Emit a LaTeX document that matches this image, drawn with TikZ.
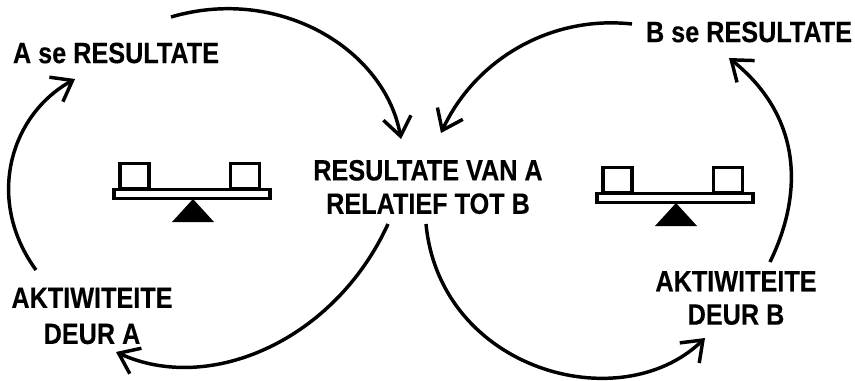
\documentclass[tikz,border=0pt]{standalone}
\usepackage{fontspec}
\setmainfont{Liberation Sans}
\usetikzlibrary{positioning,calc,arrows.meta}
\tikzset{
  lbl/.style={font=\fontsize{22}{25}\selectfont\bfseries\addfontfeatures{FakeStretch=0.86,FakeBold=0.3},align=center,inner sep=0pt},
  loopline/.style={line width=2.6pt,-{Straight Barb[length=14pt,width=21pt,line width=2.6pt]}},
  box/.style={draw,line width=2.6pt,fill=white,minimum width=22pt,minimum height=18.4pt,inner sep=0pt},
  beam/.style={draw,line width=2.6pt,fill=white,minimum width=117pt,minimum height=6.4pt,inner sep=0pt},
}
\begin{document}
\begin{tikzpicture}[x=0.75pt,y=-0.75pt]
  \useasboundingbox (0,0) rectangle (855,381);
  % text
  \node[lbl] (resA) at (116,53) {A se RESULTATE};
  \node[lbl] (resB) at (749,32) {B se RESULTATE};
  \node[lbl] (mid) at (428,187) {RESULTATE VAN A\\RELATIEF TOT B};
  \node[lbl] (actA) at (92,316) {AKTIWITEITE\\[2pt]DEUR A};
  \node[lbl] (actB) at (736,298) {AKTIWITEITE\\DEUR B};
  % free ends
  \coordinate (a1) at (171,17);
  \coordinate (a2) at (401,139);
  \coordinate (b1) at (632,24);
  \coordinate (b2) at (441,133);
  \coordinate (c1) at (388,224);
  \coordinate (c2) at (116,352);
  \coordinate (d1) at (426,224);
  \coordinate (d2) at (705,338);
  \coordinate (e1) at (36,270);
  \coordinate (e2) at (75,79);
  \coordinate (f1) at (770,262);
  \coordinate (f2) at (729,58);
  % arrows
  \draw[loopline] (a1) .. controls (280,-15) and (385,50) .. (a2);
  \draw[loopline] (b1) .. controls (550,15) and (475,60) .. (b2);
  \draw[loopline] (c1) .. controls (335,340) and (210,395) .. (c2);
  \draw[loopline] (d1) .. controls (440,370) and (620,420) .. (d2);
  \draw[loopline] (e1) .. controls (-15,200) and (10,115) .. (e2);
  \draw[loopline] (f1) .. controls (805,190) and (800,115) .. (f2);
  % left balance
  \node[box] (boxL1) at (134.5,176) {};
  \node[box] (boxL2) at (245,176) {};
  \node[beam] (beamL) at (192,194) {};
  \fill (172,222) -- (193,199) -- (214,222) -- cycle;
  % right balance
  \node[box] (boxR1) at (617.5,180) {};
  \node[box] (boxR2) at (728,180) {};
  \node[beam] (beamR) at (675,198) {};
  \fill (655,226) -- (676,203) -- (697,226) -- cycle;
\end{tikzpicture}
\end{document}
